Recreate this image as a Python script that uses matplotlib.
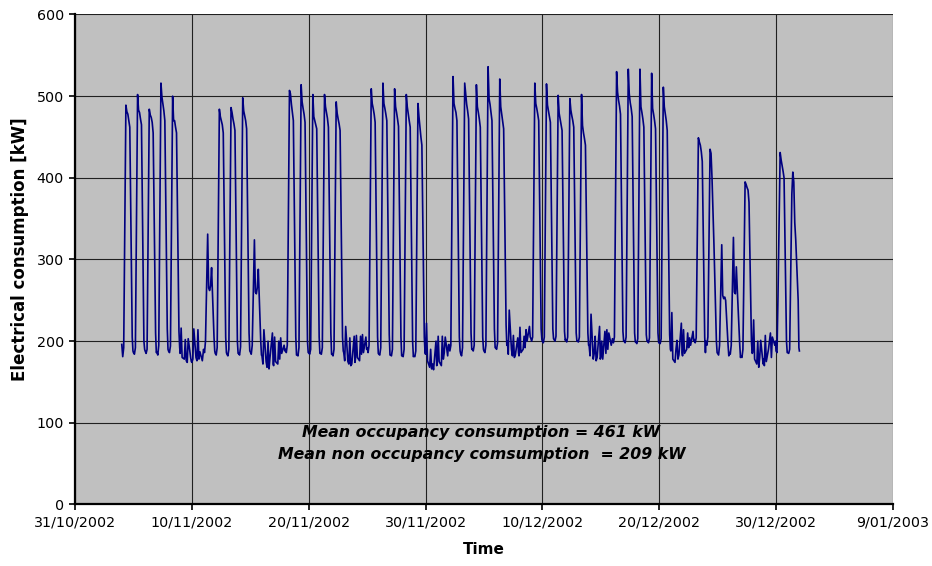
import matplotlib
matplotlib.use('Agg')
import matplotlib.pyplot as plt
import numpy as np
import pandas as pd

# sampling hours inside each day (readings taken off the chart)
hours = [0, 2, 4, 8.5, 10.5, 12.5, 14.5, 16.5, 21.5, 23]

# kW readings at the hours above, one row per day, Monday first
wk_nov04 = [[196, 181, 192, 489, 481, 478, 470, 462, 205, 188],
            [186, 184, 192, 502, 483, 480, 472, 465, 200, 190],
            [188, 185, 190, 484, 477, 474, 468, 455, 210, 186],
            [187, 183, 195, 516, 499, 490, 482, 470, 215, 190],
            [188, 186, 194, 500, 470, 470, 462, 455, 212, 192],
            [185, 216, 180, 178, 202, 176, 174, 203, 180, 175],
            [174, 178, 215, 180, 176, 214, 178, 187, 176, 185]]
wk_nov11 = [[190, 186, 200, 331, 265, 262, 268, 290, 205, 188],
            [185, 183, 192, 484, 475, 470, 465, 455, 205, 186],
            [184, 182, 190, 486, 480, 472, 466, 458, 200, 185],
            [185, 183, 193, 498, 482, 476, 470, 460, 210, 188],
            [187, 184, 195, 324, 260, 258, 266, 288, 200, 183],
            [182, 172, 214, 175, 168, 200, 166, 180, 210, 172],
            [170, 205, 175, 172, 200, 178, 204, 185, 195, 188]]
wk_nov18 = [[190, 186, 195, 507, 503, 490, 480, 470, 205, 183],
            [183, 182, 192, 514, 493, 485, 478, 468, 200, 186],
            [186, 184, 190, 502, 475, 470, 465, 460, 205, 185],
            [185, 184, 192, 502, 487, 480, 473, 462, 210, 184],
            [184, 182, 190, 493, 479, 472, 466, 458, 205, 188],
            [186, 176, 218, 175, 172, 204, 170, 172, 206, 174],
            [178, 207, 180, 176, 206, 184, 208, 186, 205, 190]]
wk_nov25 = [[192, 186, 195, 509, 491, 485, 478, 468, 205, 185],
            [184, 183, 192, 516, 491, 485, 478, 470, 208, 183],
            [183, 182, 190, 509, 487, 480, 472, 463, 205, 182],
            [183, 181, 190, 502, 487, 478, 470, 462, 200, 181],
            [182, 181, 188, 491, 475, 462, 450, 440, 205, 186],
            [184, 222, 176, 168, 190, 166, 172, 165, 200, 170],
            [172, 206, 175, 170, 206, 178, 186, 205, 182, 195]]
wk_dec02 = [[196, 188, 195, 524, 491, 485, 480, 470, 205, 188],
            [185, 182, 192, 516, 503, 490, 482, 472, 210, 190],
            [190, 188, 195, 514, 487, 480, 472, 462, 205, 190],
            [188, 186, 195, 536, 497, 490, 480, 470, 215, 192],
            [192, 190, 198, 521, 487, 478, 470, 460, 220, 195],
            [200, 184, 238, 190, 182, 207, 180, 183, 204, 186],
            [182, 217, 186, 190, 206, 192, 214, 200, 218, 205]]
wk_dec09 = [[204, 200, 205, 516, 491, 485, 478, 470, 215, 202],
            [200, 198, 205, 515, 489, 482, 475, 468, 215, 203],
            [202, 200, 206, 501, 479, 472, 465, 458, 212, 201],
            [202, 199, 205, 497, 483, 476, 470, 462, 210, 200],
            [200, 199, 205, 502, 464, 455, 448, 440, 210, 195],
            [195, 182, 233, 178, 185, 206, 176, 180, 218, 178],
            [180, 200, 178, 212, 185, 214, 190, 210, 195, 200]]
wk_dec16 = [[203, 198, 205, 530, 505, 495, 488, 478, 212, 200],
            [200, 198, 205, 533, 503, 492, 485, 475, 210, 199],
            [199, 197, 203, 533, 487, 480, 472, 462, 208, 200],
            [200, 198, 204, 528, 485, 478, 470, 460, 210, 198],
            [198, 197, 203, 511, 487, 478, 470, 458, 208, 190],
            [188, 235, 178, 174, 190, 201, 178, 183, 222, 186],
            [182, 214, 185, 190, 210, 192, 204, 195, 212, 200]]
wk_dec23 = [[202, 198, 204, 449, 444, 440, 432, 420, 205, 186],
            [200, 195, 205, 435, 430, 400, 360, 318, 200, 186],
            [185, 183, 195, 318, 256, 252, 254, 250, 195, 182],
            [186, 184, 195, 327, 260, 258, 291, 262, 195, 180],
            [182, 180, 190, 395, 392, 388, 385, 370, 200, 185],
            [186, 226, 178, 172, 200, 168, 180, 201, 172, 178],
            [170, 207, 175, 190, 200, 210, 180, 205, 195, 200]]
wk_dec30 = [[188, 186, 254, 431, 422, 415, 408, 400, 200, 186],
            [186, 185, 190, 380, 407, 395, 345, 324, 250, 192]]
last_value = 188  # 1/01/2003 00:00

x_ticks = ['2002-10-31', '2002-11-10', '2002-11-20', '2002-11-30',
           '2002-12-10', '2002-12-20', '2002-12-30', '2003-01-09']
x_tick_labels = ['31/10/2002', '10/11/2002', '20/11/2002', '30/11/2002',
                 '10/12/2002', '20/12/2002', '30/12/2002', '9/01/2003']
y_ticks = [0, 100, 200, 300, 400, 500, 600]

weeks = [wk_nov04, wk_nov11, wk_nov18, wk_nov25, wk_dec02,
         wk_dec09, wk_dec16, wk_dec23, wk_dec30]
days = [row for wk in weeks for row in wk]
start = pd.Timestamp('2002-11-04')

times = []
values = []
for i, row in enumerate(days):
  for h, v in zip(hours, row):
    times.append(start + pd.Timedelta(days=i, hours=h))
    values.append(v)
times.append(start + pd.Timedelta(days=len(days)))
values.append(last_value)

plt.rcParams['font.family'] = 'DejaVu Sans'

fig = plt.figure(figsize=(9.32, 5.66), dpi=100)
ax = fig.add_axes([0.0805, 0.1087, 0.8775, 0.8657])
ax.set_facecolor('#c0c0c0')

ax.plot(times, values, color='#000080', lw=1.2, zorder=3)

ax.set_xlim(pd.Timestamp(x_ticks[0]), pd.Timestamp(x_ticks[-1]))
ax.set_ylim(0, 600)
ax.set_xticks([pd.Timestamp(t) for t in x_ticks])
ax.set_xticklabels(x_tick_labels)
ax.set_yticks(y_ticks)

ax.grid(True, color='#202020', lw=0.8, zorder=1)
ax.set_axisbelow(True)
for s in ['top', 'right']:
  ax.spines[s].set_visible(False)
for s in ['left', 'bottom']:
  ax.spines[s].set_linewidth(1.6)
  ax.spines[s].set_zorder(4)
ax.tick_params(direction='out', length=4, width=1.2, labelsize=10.3, pad=4)

ax.set_xlabel('Time', fontsize=11, fontweight='bold', labelpad=9)
ax.set_ylabel('Electrical consumption [kW]', fontsize=12, fontweight='bold')
ax.yaxis.set_label_coords(-0.056, 0.522)

ax.text(0.497, 0.146, 'Mean occupancy consumption = 461 kW', transform=ax.transAxes,
        ha='center', va='center', fontsize=11.3, fontweight='bold', style='italic')
ax.text(0.497, 0.101, 'Mean non occupancy comsumption  = 209 kW', transform=ax.transAxes,
        ha='center', va='center', fontsize=11.3, fontweight='bold', style='italic')

fig.savefig('out.png', dpi=100)
